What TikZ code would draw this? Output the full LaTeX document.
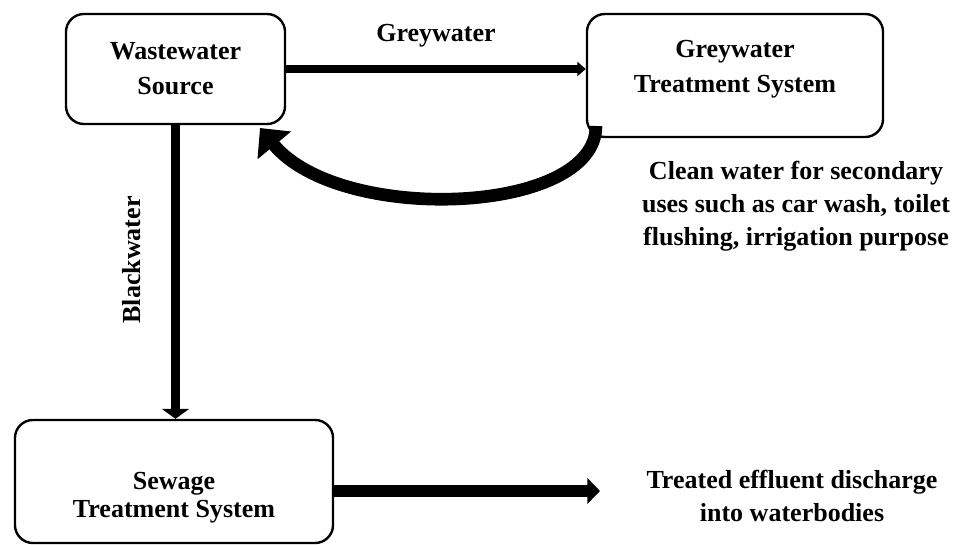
\documentclass[tikz,border=0pt]{standalone}
\usepackage{fontspec}
\setmainfont{Liberation Serif}
\usepackage{tikz}
\usetikzlibrary{positioning,arrows.meta}
\tikzset{
  every node/.style={font=\bfseries\fontsize{18.5}{25}\selectfont},
  stagebox/.style={
    rectangle, rounded corners=0.45cm,
    draw=black, line width=1.7pt, fill=white,
    align=center, inner sep=0pt
  },
  note/.style={align=center, inner sep=0pt},
  flow/.style={
    -{Triangle[length=7pt,width=19pt]},
    line width=7pt, draw=black
  },
  thinflow/.style={
    -{Triangle[length=6pt,width=10pt]},
    line width=5.7pt, draw=black
  },
  loopback/.style={
    -{Triangle[length=16pt,width=30pt]},
    line width=9pt, draw=black
  },
}

\begin{document}
\begin{tikzpicture}[x=0.025cm, y=-0.025cm]
  \useasboundingbox (0,0) rectangle (959,545);
  % boxes
  \node[stagebox, minimum width=5.475cm, minimum height=2.75cm] (src) at (175.5,69) {Wastewater\\Source};
  \node[stagebox, minimum width=7.4cm, minimum height=3.075cm, text depth=0.45cm] (grey) at (735,75.5) {Greywater\\Treatment System};
  \node[stagebox, minimum width=7.95cm, minimum height=3.075cm, text height=1.95cm,
        font=\bfseries\fontsize{18.5}{20}\selectfont] (sew) at (174,481.5) {Sewage\\Treatment System};
  % notes
  \node[note, font=\bfseries\fontsize{18.5}{23.5}\selectfont] (clean) at (796,206) {Clean water for secondary\\uses such as car wash, toilet\\flushing, irrigation purpose};
  \node[note, font=\bfseries\fontsize{18.5}{23}\selectfont] (eff) at (792,496) {Treated effluent discharge\\into waterbodies};
  \coordinate (effend) at (600,491);
  % flows
  \draw[thinflow] (src.east) -- (src.east -| grey.west)
    node[midway, above=0.45cm, note] (gwlabel) {Greywater};
  \draw[flow] (src.south) -- (src.south |- sew.north);
  \node[note, rotate=90] (bwlabel) at (132,260) {Blackwater};
  \draw[flow, -{Triangle[length=9pt,width=18pt]}, line width=8pt] (sew.east |- effend) -- (effend);
  \coordinate (loopstart) at (596,126);
  \coordinate (looptip) at (260,128);
  \draw[loopback] (loopstart) .. controls (596,215) and (340,225) .. (looptip);
\end{tikzpicture}
\end{document}
